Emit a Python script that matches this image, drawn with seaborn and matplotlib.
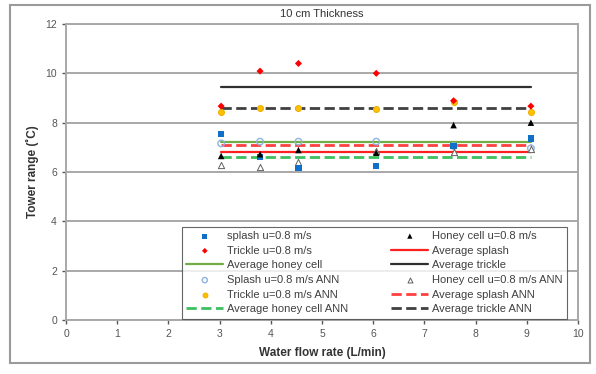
import matplotlib
matplotlib.use("Agg")
import matplotlib.pyplot as plt
import seaborn as sns
import pandas as pd
from matplotlib.patches import Rectangle

# flow rates (L/min)
flow = [3.03, 3.79, 4.54, 6.06, 7.57, 9.08]

# measured tower range (C)
splash = [7.54, 6.62, 6.15, 6.24, 7.05, 7.36]
trickle = [8.67, 10.09, 10.4, 10.0, 8.89, 8.67]
honey = [6.65, 6.72, 6.89, 6.78, 7.9, 8.0]

# ANN predictions
splash_ann = [7.16, 7.23, 7.23, 7.23, 7.05, 6.96]
trickle_ann = [8.42, 8.6, 8.6, 8.57, 8.85, 8.42]
honey_ann = [6.3, 6.19, 6.42, 6.85, 6.8, 6.92]

# averages
avg_splash = 6.8
avg_trickle = 9.46
avg_honey = 7.2
avg_splash_ann = 7.08
avg_trickle_ann = 8.6
avg_honey_ann = 6.62
avg_span = [3.03, 9.08]

sns.set_style("white")
plt.rcParams['font.family'] = ['Liberation Sans', 'DejaVu Sans']

fig = plt.figure(figsize=(5.96, 3.74), dpi=100)
ax = fig.add_axes([66 / 596, 1 - 320 / 374, 512 / 596, 296 / 374])

fig.patches.append(Rectangle((10 / 596, 1 - 363 / 374), 580 / 596, 358 / 374,
                             transform=fig.transFigure, fill=False,
                             edgecolor='#9a9a9a', linewidth=1.5))


def avg_line(val, color, ls, label):
    d = pd.DataFrame({'x': avg_span, 'y': [val, val]})
    sns.lineplot(data=d, x='x', y='y', ax=ax, color=color, linestyle=ls,
                 linewidth=2.0 if ls == '--' else 1.6, label=label, zorder=2)


def pts(vals, label, **kw):
    d = pd.DataFrame({'x': flow, 'y': vals})
    sns.scatterplot(data=d, x='x', y='y', ax=ax, label=label, zorder=3, **kw)


avg_line(avg_honey, '#70ad47', '-', 'Average honey cell')
avg_line(avg_splash_ann, '#ff4040', '--', 'Average splash ANN')
avg_line(avg_splash, '#ff2020', '-', 'Average splash')
avg_line(avg_honey_ann, '#3cc060', '--', 'Average honey cell ANN')
avg_line(avg_trickle, '#303030', '-', 'Average trickle')
avg_line(avg_trickle_ann, '#404040', '--', 'Average trickle ANN')

pts(trickle_ann, 'Trickle u=0.8 m/s ANN', marker='o', s=18, color='#ffc000',
    edgecolor='#f0b000', linewidth=0.8)
pts(trickle, 'Trickle u=0.8 m/s', marker='D', s=13, color='#ff0000', edgecolor='none')
pts(splash_ann, 'Splash u=0.8 m/s ANN', marker='o', s=22, facecolor='none',
    edgecolor='#8db4e2', linewidth=1.0)
pts(honey_ann, 'Honey cell u=0.8 m/s ANN', marker='^', s=20, facecolor='white',
    edgecolor='#606060', linewidth=0.7)
pts(splash, 'splash u=0.8 m/s', marker='s', s=20, color='#1070c8', edgecolor='none')
pts(honey, 'Honey cell u=0.8 m/s', marker='^', s=22, color='black', edgecolor='none')

ax.set_xlim(0, 10)
ax.set_ylim(0, 12)
ax.set_xticks(range(0, 11))
ax.set_yticks(range(0, 13, 2))
ax.yaxis.grid(True, color='#a8a8a8', linewidth=1.4)
ax.xaxis.grid(False)
for s in ax.spines.values():
    s.set_color('#a8a8a8')
    s.set_linewidth(1.4)
ax.tick_params(axis='both', labelsize=7.5, colors='#555555', length=3,
               direction='out', width=1)
ax.tick_params(axis='both', which='both', bottom=True, left=True)

ax.set_xlabel('Water flow rate (L/min)', fontsize=8.5, fontweight='bold', color='#333333',
              labelpad=6)
ax.set_ylabel('Tower range (˚C)', fontsize=8.5, fontweight='bold', color='#333333',
              labelpad=4.5)
ax.set_title('10 cm Thickness', fontsize=8, color='#333333', pad=5)

h, l = ax.get_legend_handles_labels()
hd = dict(zip(l, h))
order = ['splash u=0.8 m/s', 'Trickle u=0.8 m/s', 'Average honey cell',
         'Splash u=0.8 m/s ANN', 'Trickle u=0.8 m/s ANN', 'Average honey cell ANN',
         'Honey cell u=0.8 m/s', 'Average splash', 'Average trickle',
         'Honey cell u=0.8 m/s ANN', 'Average splash ANN', 'Average trickle ANN']
leg = ax.legend([hd[k] for k in order], order, ncol=2, loc='lower left',
                bbox_to_anchor=(0.2266, 0.004), fontsize=8, frameon=True,
                fancybox=False, edgecolor='#404040',
                handlelength=3.3, handletextpad=0.35, labelspacing=0.42,
                columnspacing=3.9, borderpad=0.4, borderaxespad=0,
                markerscale=0.8)
leg.get_frame().set_linewidth(0.8)
for t in leg.get_texts():
    t.set_color('#404040')

fig.savefig('out.png', dpi=100)
